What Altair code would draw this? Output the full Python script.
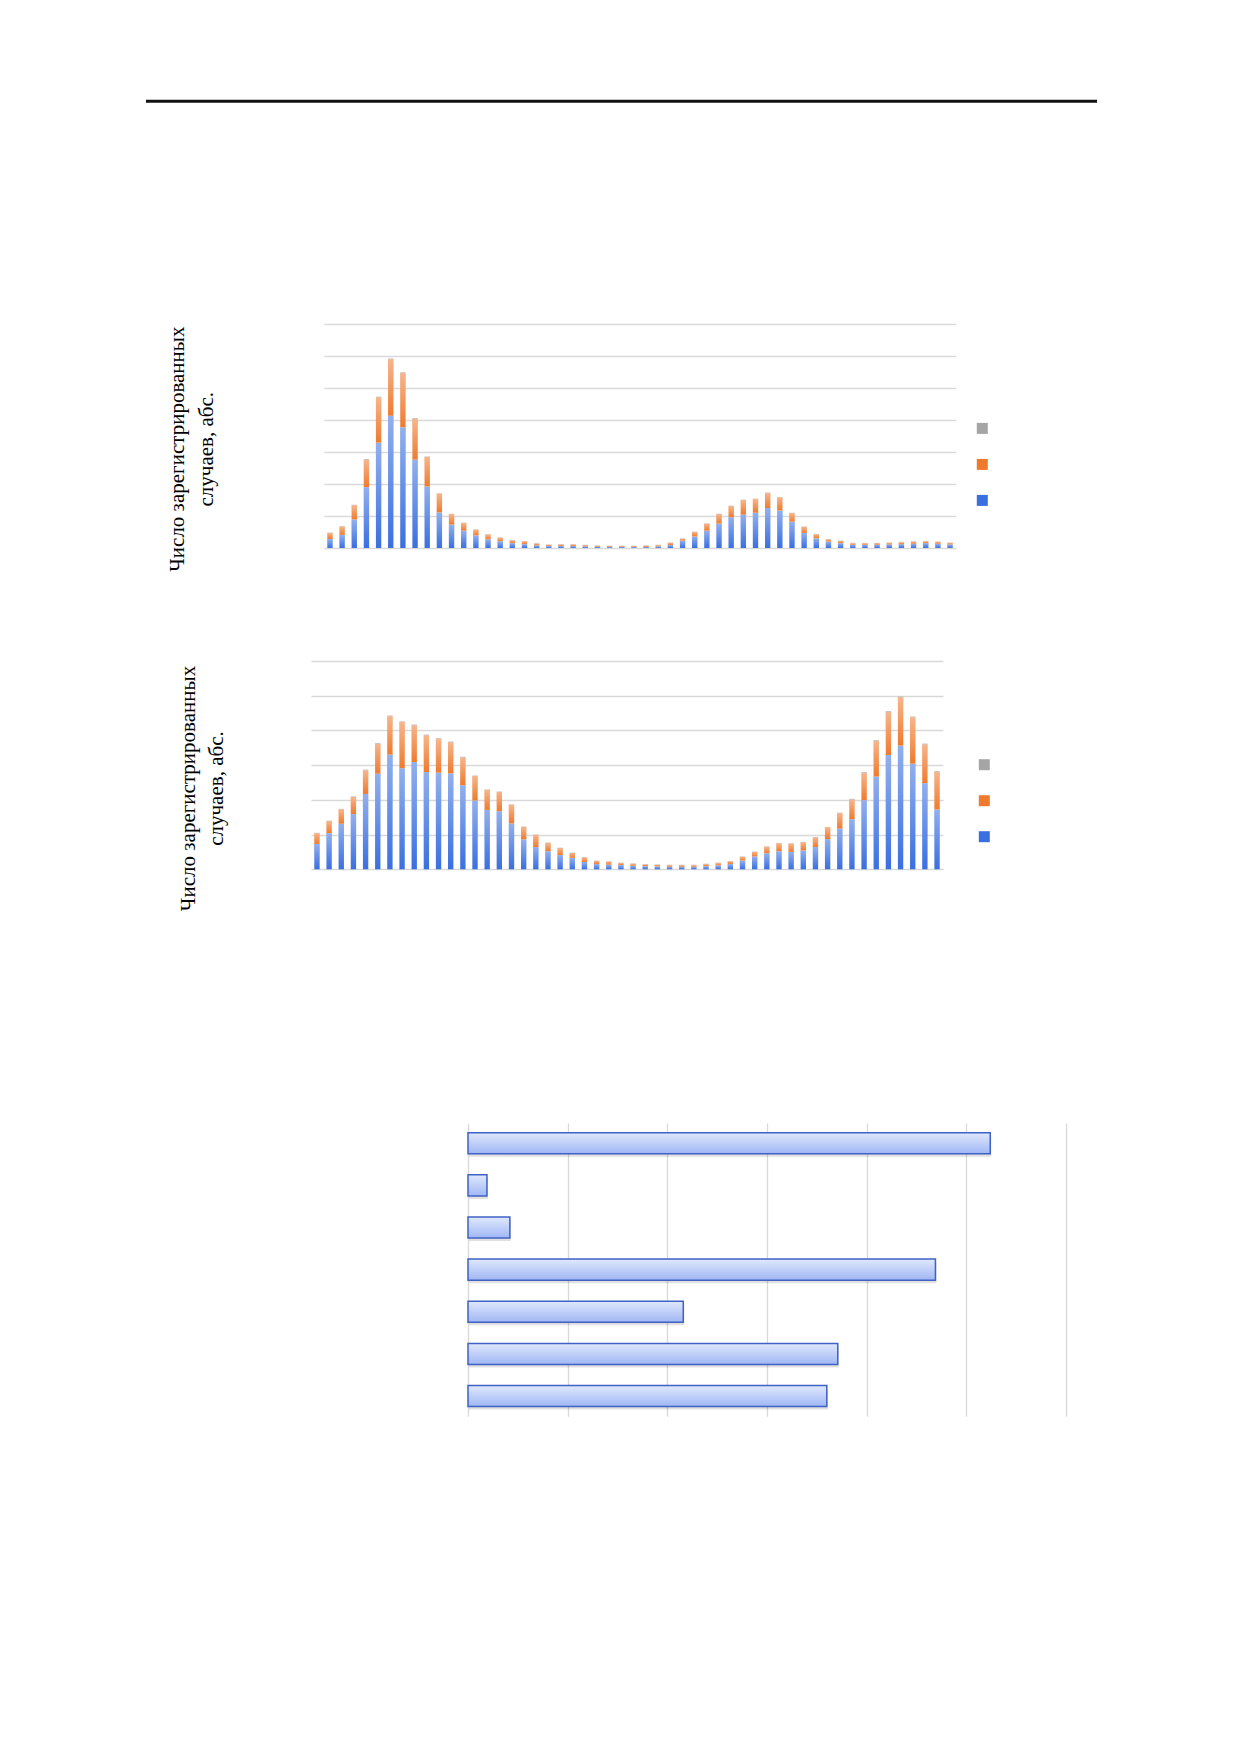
import altair as alt
import pandas as pd

# ---------------- data ----------------
weeks = list(range(1, 53))
series_names = ["Ряд 1", "Ряд 2", "Ряд 3"]          # blue, orange, gray
series_colors = ["#3a6fe0", "#ef7a2e", "#a5a5a5"]

# chart 1 (scale: one gridline step = 100)
blue1 = [28, 41, 89, 190, 329, 413, 377, 276, 192, 111, 73, 54, 39, 27, 21, 15, 12, 8, 6, 6,
         6, 5, 4, 3, 3, 3, 3, 5, 9, 23, 36, 54, 76, 96, 104, 110, 125, 117, 82, 47,
         30, 20, 15, 10, 10, 10, 11, 12, 13, 15, 13, 11]
orange1 = [19, 26, 45, 86, 142, 177, 170, 128, 93, 59, 33, 24, 18, 15, 11, 9, 9, 6, 4, 5,
           5, 4, 3, 3, 3, 3, 4, 4, 7, 6, 14, 22, 30, 35, 46, 43, 47, 41, 27, 19,
           13, 7, 7, 5, 5, 5, 5, 6, 7, 6, 6, 5]
gray1 = [1, 1, 1, 2, 2, 2, 2, 2, 1, 1, 1, 1, 1, 1, 1, 1, 1, 1, 1, 1,
         1, 1, 1, 1, 1, 1, 1, 1, 1, 1, 1, 1, 1, 1, 1, 1, 1, 1, 1, 1,
         1, 1, 1, 1, 1, 1, 1, 1, 1, 1, 1, 1]

# chart 2
blue2 = [73, 104, 131, 159, 217, 275, 330, 291, 309, 280, 278, 276, 242, 198, 171, 167, 132, 86, 64, 52,
         41, 33, 21, 15, 13, 12, 10, 9, 8, 7, 7, 7, 9, 11, 15, 25, 37, 46, 52, 50,
         54, 64, 87, 117, 144, 199, 267, 329, 356, 304, 248, 172]
orange2 = [31, 35, 42, 50, 68, 87, 111, 133, 106, 106, 98, 90, 80, 71, 58, 56, 54, 36, 35, 24,
           20, 14, 13, 9, 9, 6, 6, 5, 5, 5, 5, 5, 6, 7, 8, 11, 13, 19, 23, 24,
           24, 28, 34, 45, 57, 79, 103, 125, 140, 134, 112, 109]
gray2 = [1, 1, 1, 1, 2, 2, 2, 2, 2, 2, 2, 2, 2, 1, 1, 1, 1, 1, 1, 1,
         1, 1, 1, 1, 1, 1, 1, 1, 1, 1, 1, 1, 1, 1, 1, 1, 1, 1, 1, 1,
         1, 1, 1, 1, 2, 2, 2, 2, 2, 2, 2, 2]

# chart 3
cats3 = ["Категория 1", "Категория 2", "Категория 3", "Категория 4",
         "Категория 5", "Категория 6", "Категория 7"]
values3 = [524, 19, 42, 469, 216, 371, 360]

y_title = ["Число зарегистрированных", "случаев, абс."]


def long_df(blue, orange, gray):
    rows = []
    for i, w in enumerate(weeks):
        for k, vals in enumerate([blue, orange, gray]):
            rows.append({"week": w, "series": series_names[k], "ord": k + 1, "value": vals[i]})
    return pd.DataFrame(rows)


df1 = long_df(blue1, orange1, gray1)
df2 = long_df(blue2, orange2, gray2)
df3 = pd.DataFrame({"cat": cats3, "value": values3})

shine = alt.Gradient(
    gradient="linear", x1=0, x2=0, y1=0, y2=1,
    stops=[alt.GradientStop(offset=0, color="rgba(255,255,255,0.45)"),
           alt.GradientStop(offset=1, color="rgba(255,255,255,0)")],
)
bar3_fill = alt.Gradient(
    gradient="linear", x1=0, x2=0, y1=0, y2=1,
    stops=[alt.GradientStop(offset=0, color="#dfe8fd"),
           alt.GradientStop(offset=1, color="#a0b7f4")],
)


def spacer(w, h):
    return alt.Chart(pd.DataFrame({"s": [0]})).mark_rect(opacity=0).encode(
        x=alt.value(0), x2=alt.value(1), y=alt.value(0), y2=alt.value(1)
    ).properties(width=w, height=h)


def stacked(df, ymax, step, h, title_x, title_y, leg_x, leg_y):
    yvals = list(range(0, ymax + 1, step))
    base = alt.Chart(df).encode(
        x=alt.X("week:O", axis=None,
                scale=alt.Scale(paddingInner=0.56, paddingOuter=0.27)),
        y=alt.Y("value:Q", stack="zero",
                scale=alt.Scale(domain=[0, ymax], nice=False),
                axis=alt.Axis(values=yvals, grid=True, labels=False, ticks=False,
                              domain=False, gridColor="#d9d9d9", gridWidth=1.3,
                              title=y_title, titleX=title_x, titleY=title_y,
                              titleAngle=270, titleAlign="center",
                              titleBaseline="middle", titleFont="Liberation Serif",
                              titleFontSize=21, titleFontWeight="normal",
                              titleColor="#000000", titleLineHeight=28.5)),
        order=alt.Order("ord:Q"),
    )
    bars = base.mark_bar().encode(
        color=alt.Color(
            "series:N",
            scale=alt.Scale(domain=series_names[::-1], range=series_colors[::-1]),
            legend=alt.Legend(orient="none", legendX=leg_x, legendY=leg_y,
                              title=None, labelExpr="''", symbolType="square",
                              symbolSize=121, symbolStrokeWidth=0,
                              rowPadding=24, padding=0, labelFontSize=11),
        )
    )
    gloss = base.mark_bar(color=shine).encode(detail="series:N")
    return alt.layer(bars, gloss).properties(width=632, height=h)


chart1 = stacked(df1, 700, 100, 224, -146.1, 124.7, 652.8, 98.9)
chart2 = stacked(df2, 600, 100, 208.3, -122.9, 127.0, 667.8, 98.2)

enc3 = dict(
    y=alt.Y("cat:N", sort=cats3, axis=None,
            scale=alt.Scale(paddingInner=0.5, paddingOuter=0.23)),
    x=alt.X("value:Q", scale=alt.Scale(domain=[0, 600], nice=False),
            axis=alt.Axis(values=list(range(0, 601, 100)), grid=True, labels=False,
                          ticks=False, domain=False, title=None,
                          gridColor="#d9d9d9", gridWidth=1.3)),
)
shadow3 = alt.Chart(df3).mark_bar(color="#000000", opacity=0.12, yOffset=3, xOffset=1).encode(**enc3)
bars3 = alt.Chart(df3).mark_bar(color=bar3_fill, stroke="#3f62c4", strokeWidth=1.5).encode(**enc3)
chart3 = alt.layer(shadow3, bars3).properties(width=598, height=293.3)

rule = alt.Chart(pd.DataFrame({"s": [0]})).mark_rule(color="#111111", strokeWidth=3).encode(
    x=alt.value(0), x2=alt.value(951), y=alt.value(93.3)
).properties(width=951, height=100)

row0 = alt.hconcat(spacer(136, 315.3), rule, spacing=0)
row1 = alt.hconcat(spacer(158, 336.7), chart1, spacing=0).resolve_scale(
    color="independent").resolve_legend(color="independent")
row2 = alt.hconcat(spacer(169, 461.7), chart2, spacing=0).resolve_scale(
    color="independent").resolve_legend(color="independent")
row3 = alt.hconcat(spacer(459, 300), chart3, spacing=0)

chart = alt.vconcat(row0, row1, row2, row3, spacing=0).resolve_scale(
    color="independent").resolve_legend(color="independent").properties(
    padding=0
).configure_view(strokeWidth=0, stroke="transparent")

chart.save("out.html", embed_options={"renderer": "svg", "actions": False})
